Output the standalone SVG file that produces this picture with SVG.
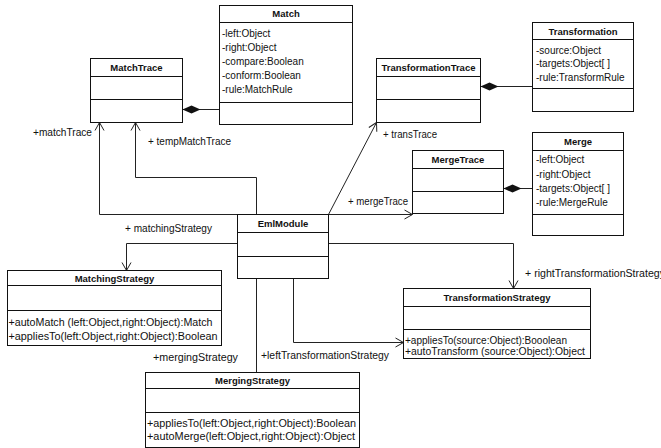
<svg xmlns="http://www.w3.org/2000/svg" width="661" height="448" viewBox="0 0 661 448">
  <style>
    .box { fill: #ffffff; stroke: #111111; stroke-width: 1; }
    .div { stroke: #111111; stroke-width: 1; }
    .hd { font-family: "Liberation Sans", Arial, sans-serif; font-size: 9.5px; font-weight: bold; fill: #111111; text-anchor: middle; }
    .tx { font-family: "Liberation Sans", Arial, sans-serif; font-size: 10px; fill: #111111; }
    .edge { fill: none; stroke: #222222; stroke-width: 1; }
  </style>
  <defs>
    <marker id="open" markerUnits="userSpaceOnUse" markerWidth="10" markerHeight="11" refX="9" refY="5.5" orient="auto">
      <path d="M1,1 L9,5.5 L1,10" fill="none" stroke="#222222" stroke-width="1"/>
    </marker>
    <marker id="diamond" markerUnits="userSpaceOnUse" markerWidth="19" markerHeight="9" refX="0" refY="4.5" orient="auto">
      <path d="M0,4.5 L9,0.5 L18,4.5 L9,8.5 Z" fill="#111111"/>
    </marker>
  </defs>

  <rect width="661" height="448" fill="#ffffff"/>

  <!-- associations and their role names -->
  <g id="connectors">
    <path class="edge" d="M237.5,214.5 H99.5 V122.5" marker-end="url(#open)"/>
    <path class="edge" d="M256.5,214.5 V177.5 H135.5 V122.5" marker-end="url(#open)"/>
    <path class="edge" d="M328.5,214.5 L376.5,122.5" marker-end="url(#open)"/>
    <path class="edge" d="M328.5,214.5 H412.5" marker-end="url(#open)"/>
    <path class="edge" d="M237.5,243.5 H126.5 V270.5" marker-end="url(#open)"/>
    <path class="edge" d="M328.5,243.5 H513.5 V288.5" marker-end="url(#open)"/>
    <path class="edge" d="M293.5,278.5 V342.5 H403.5" marker-end="url(#open)"/>
    <path class="edge" d="M256.5,278.5 V372.5"/>
    <!-- compositions -->
    <path class="edge" d="M182.5,109.5 H219.5" marker-start="url(#diamond)"/>
    <path class="edge" d="M480.5,86.5 H532.5" marker-start="url(#diamond)"/>
    <path class="edge" d="M503.5,188.5 H532.5" marker-start="url(#diamond)"/>

    <text class="tx" x="33" y="135.5" textLength="59" lengthAdjust="spacingAndGlyphs">+matchTrace</text>
    <text class="tx" x="148" y="144.5" textLength="83" lengthAdjust="spacingAndGlyphs">+ tempMatchTrace</text>
    <text class="tx" x="383" y="137.5" textLength="54" lengthAdjust="spacingAndGlyphs">+ transTrace</text>
    <text class="tx" x="348" y="204.5" textLength="60" lengthAdjust="spacingAndGlyphs">+ mergeTrace</text>
    <text class="tx" x="125" y="231.5" textLength="87" lengthAdjust="spacingAndGlyphs">+ matchingStrategy</text>
    <text class="tx" x="525" y="276.5" textLength="140" lengthAdjust="spacingAndGlyphs">+ rightTransformationStrategy</text>
    <text class="tx" x="153" y="360.5" textLength="85" lengthAdjust="spacingAndGlyphs">+mergingStrategy</text>
    <text class="tx" x="261" y="358.5" textLength="128" lengthAdjust="spacingAndGlyphs">+leftTransformationStrategy</text>
  </g>

  <!-- classes -->
  <g id="Match">
    <rect class="box" x="219.5" y="5.5" width="133" height="119"/>
    <line class="div" x1="219.5" y1="22.5" x2="352.5" y2="22.5"/>
    <line class="div" x1="219.5" y1="102.5" x2="352.5" y2="102.5"/>
    <text class="hd" x="286" y="17">Match</text>
    <text class="tx" x="222" y="37">-left:Object</text>
    <text class="tx" x="222" y="51">-right:Object</text>
    <text class="tx" x="222" y="65">-compare:Boolean</text>
    <text class="tx" x="222" y="78.5">-conform:Boolean</text>
    <text class="tx" x="222" y="92.5">-rule:MatchRule</text>
  </g>

  <g id="MatchTrace">
    <rect class="box" x="90.5" y="58.5" width="92" height="64"/>
    <line class="div" x1="90.5" y1="76.5" x2="182.5" y2="76.5"/>
    <line class="div" x1="90.5" y1="99.5" x2="182.5" y2="99.5"/>
    <text class="hd" x="136.5" y="70.5">MatchTrace</text>
  </g>

  <g id="TransformationTrace">
    <rect class="box" x="376.5" y="58.5" width="104" height="64"/>
    <line class="div" x1="376.5" y1="76.5" x2="480.5" y2="76.5"/>
    <line class="div" x1="376.5" y1="99.5" x2="480.5" y2="99.5"/>
    <text class="hd" x="428.5" y="70.5">TransformationTrace</text>
  </g>

  <g id="Transformation">
    <rect class="box" x="532.5" y="22.5" width="101" height="89"/>
    <line class="div" x1="532.5" y1="39.5" x2="633.5" y2="39.5"/>
    <line class="div" x1="532.5" y1="88.5" x2="633.5" y2="88.5"/>
    <text class="hd" x="583" y="34.5">Transformation</text>
    <text class="tx" x="536" y="53.5">-source:Object</text>
    <text class="tx" x="536" y="67">-targets:Object[ ]</text>
    <text class="tx" x="536" y="81">-rule:TransformRule</text>
  </g>

  <g id="MergeTrace">
    <rect class="box" x="412.5" y="150.5" width="91" height="63"/>
    <line class="div" x1="412.5" y1="168.5" x2="503.5" y2="168.5"/>
    <line class="div" x1="412.5" y1="191.5" x2="503.5" y2="191.5"/>
    <text class="hd" x="458" y="162.5">MergeTrace</text>
  </g>

  <g id="Merge">
    <rect class="box" x="532.5" y="132.5" width="91" height="103"/>
    <line class="div" x1="532.5" y1="150.5" x2="623.5" y2="150.5"/>
    <line class="div" x1="532.5" y1="214.5" x2="623.5" y2="214.5"/>
    <text class="hd" x="578" y="144.5">Merge</text>
    <text class="tx" x="536" y="163">-left:Object</text>
    <text class="tx" x="536" y="177.5">-right:Object</text>
    <text class="tx" x="536" y="191.5">-targets:Object[ ]</text>
    <text class="tx" x="536" y="205.5">-rule:MergeRule</text>
  </g>

  <g id="EmlModule">
    <rect class="box" x="237.5" y="214.5" width="91" height="64"/>
    <line class="div" x1="237.5" y1="232.5" x2="328.5" y2="232.5"/>
    <line class="div" x1="237.5" y1="256.5" x2="328.5" y2="256.5"/>
    <text class="hd" x="283" y="226.5">EmlModule</text>
  </g>

  <g id="MatchingStrategy">
    <rect class="box" x="7.5" y="270.5" width="214" height="75"/>
    <line class="div" x1="7.5" y1="285.5" x2="221.5" y2="285.5"/>
    <line class="div" x1="7.5" y1="310.5" x2="221.5" y2="310.5"/>
    <text class="hd" x="114.5" y="281.5">MatchingStrategy</text>
    <text class="tx" x="8.5" y="325.5" textLength="204" lengthAdjust="spacingAndGlyphs">+autoMatch (left:Object,right:Object):Match</text>
    <text class="tx" x="8.5" y="339.5" textLength="209" lengthAdjust="spacingAndGlyphs">+appliesTo(left:Object,right:Object):Boolean</text>
  </g>

  <g id="TransformationStrategy">
    <rect class="box" x="403.5" y="288.5" width="187" height="70"/>
    <line class="div" x1="403.5" y1="306.5" x2="590.5" y2="306.5"/>
    <line class="div" x1="403.5" y1="329.5" x2="590.5" y2="329.5"/>
    <text class="hd" x="497" y="300.5">TransformationStrategy</text>
    <text class="tx" x="405" y="343.5" textLength="162" lengthAdjust="spacingAndGlyphs">+appliesTo(source:Object):Booolean</text>
    <text class="tx" x="405" y="355" textLength="180" lengthAdjust="spacingAndGlyphs">+autoTransform (source:Object):Object</text>
  </g>

  <g id="MergingStrategy">
    <rect class="box" x="145.5" y="372.5" width="214" height="75"/>
    <line class="div" x1="145.5" y1="388.5" x2="359.5" y2="388.5"/>
    <line class="div" x1="145.5" y1="412.5" x2="359.5" y2="412.5"/>
    <text class="hd" x="252.5" y="383.5">MergingStrategy</text>
    <text class="tx" x="147" y="426.5" textLength="209" lengthAdjust="spacingAndGlyphs">+appliesTo(left:Object,right:Object):Boolean</text>
    <text class="tx" x="147" y="439.5" textLength="208" lengthAdjust="spacingAndGlyphs">+autoMerge(left:Object,right:Object):Object</text>
  </g>
</svg>
